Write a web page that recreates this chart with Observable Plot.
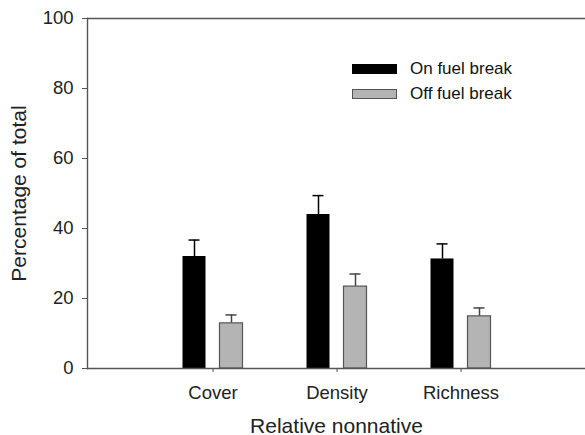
<!DOCTYPE html>
<html>
<head>
<meta charset="utf-8">
<script src="https://cdn.jsdelivr.net/npm/d3@7"></script>
<script src="https://cdn.jsdelivr.net/npm/@observablehq/plot@0.6"></script>
<style>
  body { margin: 0; background: #fff; }
  #wrap { position: relative; width: 585px; height: 435px; font-family: "Liberation Sans", Arial, sans-serif; }
  .leg { position: absolute; left: 352px; display: flex; align-items: center; font-size: 17px; color: #111; }
  .sw { width: 45px; height: 10px; box-sizing: border-box; margin-right: 13px; }
</style>
</head>
<body>
<div id="wrap"></div>
<script>
const categories = ["Cover", "Density", "Richness"];
const onValues = [32.0, 44.0, 31.3];
const onErrors = [4.7, 5.4, 4.3];
const offValues = [12.9, 23.4, 14.9];
const offErrors = [2.4, 3.6, 2.4];
const seriesNames = ["On fuel break", "Off fuel break"];
const yTicks = [0, 20, 40, 60, 80, 100];

const onData = categories.map((c, i) => ({cat: c, v: onValues[i], e: onErrors[i]}));
const offData = categories.map((c, i) => ({cat: c, v: offValues[i], e: offErrors[i]}));

const axisColor = "#555";
const offset = 18.5;

const chart = Plot.plot({
  width: 585,
  height: 435,
  marginLeft: 87,
  marginRight: 0,
  marginTop: 18,
  marginBottom: 67,
  style: {fontFamily: "'Liberation Sans', Arial, sans-serif", fontSize: "18.5px", color: "#222", background: "#fff"},
  x: {type: "band", domain: categories, paddingInner: 0.815, paddingOuter: 0.9076},
  y: {domain: [0, 100]},
  marks: [
    // error bars
    Plot.ruleX(onData, {x: "cat", y1: "v", y2: d => d.v + d.e, dx: -offset, stroke: "#000", strokeWidth: 1.5}),
    Plot.tickY(onData, {x: "cat", y: d => d.v + d.e, dx: -offset, stroke: "#000", strokeWidth: 1.5, insetLeft: 6, insetRight: 6}),
    Plot.ruleX(offData, {x: "cat", y1: "v", y2: d => d.v + d.e, dx: offset, stroke: "#444", strokeWidth: 1.5}),
    Plot.tickY(offData, {x: "cat", y: d => d.v + d.e, dx: offset, stroke: "#444", strokeWidth: 1.5, insetLeft: 6, insetRight: 6}),
    // bars
    Plot.barY(onData, {x: "cat", y: "v", dx: -offset, fill: "#000"}),
    Plot.barY(offData, {x: "cat", y: "v", dx: offset, fill: "#b4b4b4", stroke: "#555", strokeWidth: 1.2}),
    // frame lines
    Plot.ruleY([0], {stroke: axisColor, strokeWidth: 1.4}),
    Plot.ruleY([100], {stroke: axisColor, strokeWidth: 1.4}),
    Plot.frame({anchor: "left", stroke: axisColor, strokeWidth: 1.4}),
    Plot.axisY({ticks: yTicks, tickSize: 5, tickPadding: 9, stroke: axisColor, label: "Percentage of total", labelAnchor: "center", labelArrow: "none", labelOffset: 76, fontSize: 18.5}),
    Plot.axisX({tickSize: 4, tickPadding: 13, stroke: axisColor, label: "Relative nonnative", labelAnchor: "center", labelArrow: "none", labelOffset: 64, fontSize: 18.5})
  ]
});

// enlarge axis label fonts
const wrap = document.getElementById("wrap");
wrap.appendChild(chart);
chart.querySelectorAll("g[aria-label='y-axis label'] text, g[aria-label='x-axis label'] text").forEach(t => t.setAttribute("font-size", "21px"));

const legendColors = [{fill: "#000", border: "#000"}, {fill: "#b4b4b4", border: "#555"}];
const legendTops = [59, 84];
seriesNames.forEach((name, i) => {
  const item = document.createElement("div");
  item.className = "leg";
  item.style.top = legendTops[i] + "px";
  const sw = document.createElement("div");
  sw.className = "sw";
  sw.style.background = legendColors[i].fill;
  sw.style.border = "1px solid " + legendColors[i].border;
  const label = document.createElement("span");
  label.textContent = name;
  item.appendChild(sw);
  item.appendChild(label);
  wrap.appendChild(item);
});
</script>
</body>
</html>
